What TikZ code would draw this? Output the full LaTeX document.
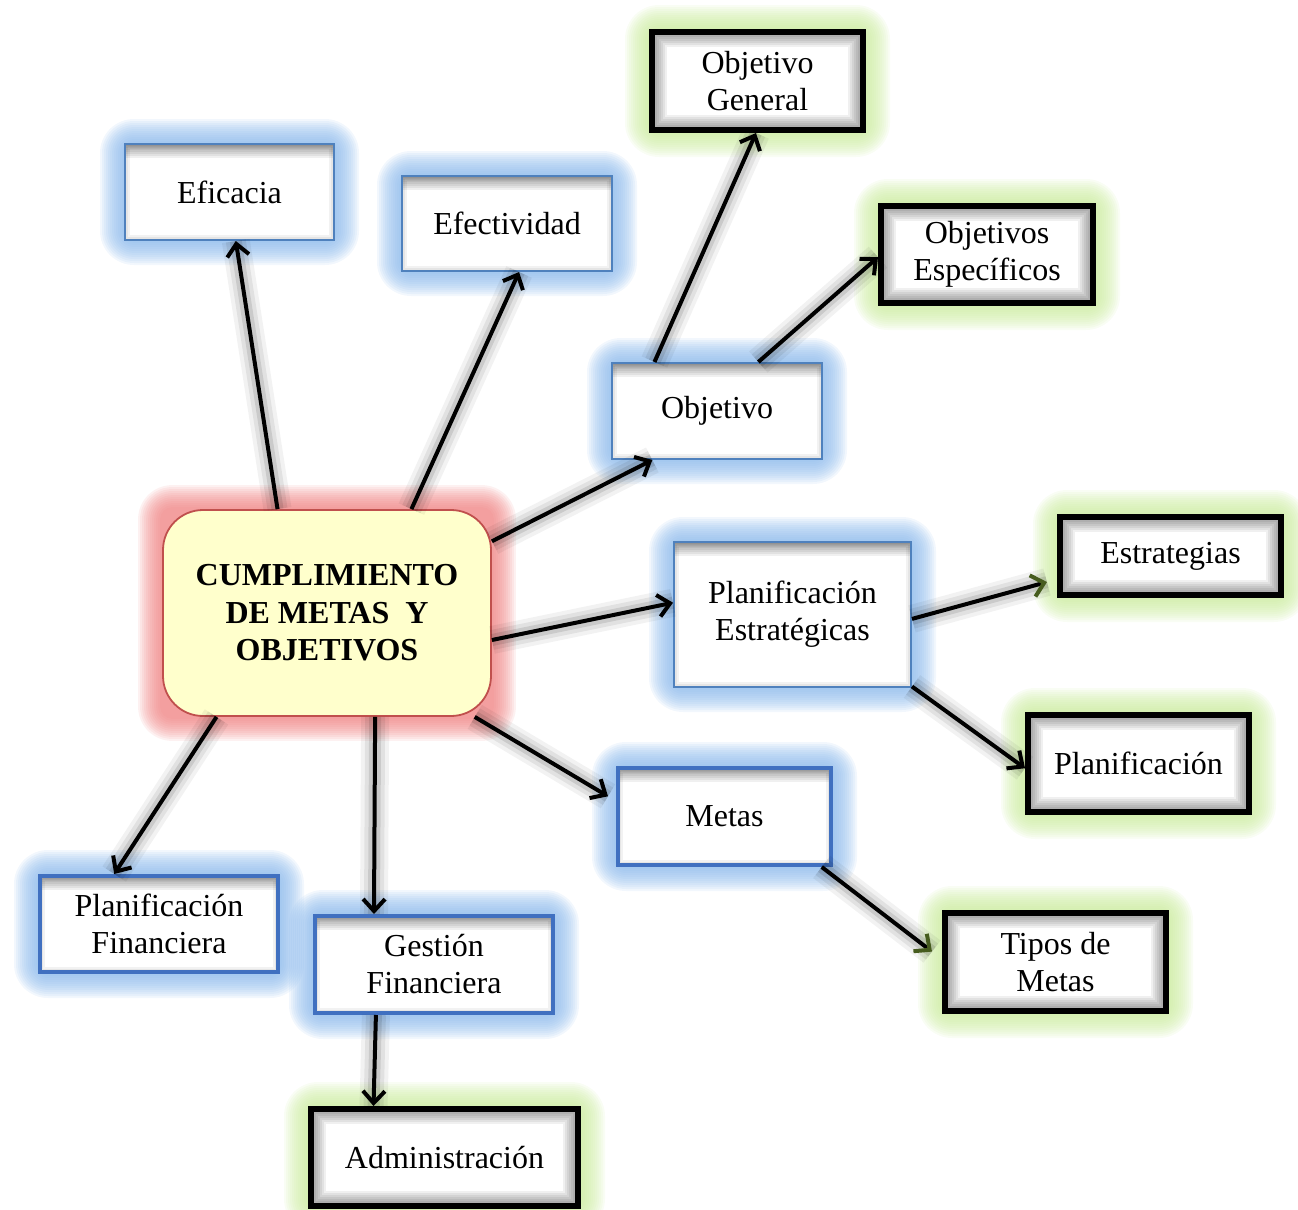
\documentclass[tikz,border=0pt]{standalone}
\usepackage{fontspec}
\setmainfont{Liberation Serif}
\usetikzlibrary{arrows.meta,calc}
\pgfdeclarelayer{glow}
\pgfsetlayers{glow,main}

\definecolor{glowblue}{RGB}{136,183,235}
\definecolor{glowgreen}{RGB}{201,235,155}
\definecolor{glowred}{RGB}{239,128,128}
\definecolor{lineblue}{RGB}{79,129,189}
\definecolor{deepblue}{RGB}{64,112,192}
\definecolor{boxred}{RGB}{192,80,77}
\definecolor{cream}{RGB}{255,255,204}
\definecolor{tipgreen}{RGB}{70,92,30}

% soft coloured halo behind a node
\newcommand\glowof[2]{%
  \begin{pgfonlayer}{glow}
    \foreach \gr in {1,...,12}{
      \pgfmathsetlengthmacro\grc{\gr pt+5pt}
      \fill[#2, fill opacity=0.11, rounded corners=\grc]
        ($(#1.south west)+(-\gr pt,-\gr pt)$) rectangle ($(#1.north east)+(\gr pt,\gr pt)$);
    }
  \end{pgfonlayer}}

\tikzset{
  box/.style={rectangle, fill=white, align=center, inner sep=0pt,
    font=\fontsize{16}{18.5}\selectfont},
  topshade/.style={path picture={
    \foreach \w in {14pt,12pt,10pt,8pt,6pt,4pt,2pt}
      \draw[black, line width=\w, opacity=0.06]
        (path picture bounding box.north west) -- (path picture bounding box.north east);
    \foreach \w in {5pt,3pt}
      \draw[black, line width=\w, opacity=0.05]
        (path picture bounding box.south west) rectangle (path picture bounding box.north east);}},
  innershade/.style={path picture={
    \foreach \w in {15pt,13pt,11pt,9pt,7pt,5pt}
      \draw[black, line width=\w, opacity=0.06]
        (path picture bounding box.south west) rectangle (path picture bounding box.north east);}},
  thinblue/.style={box, draw=lineblue, line width=1pt, topshade},
  thickblue/.style={box, draw=deepblue, line width=2pt, topshade},
  blackbox/.style={box, draw=black, line width=3pt, innershade},
  corebox/.style={rectangle, rounded corners=20pt, fill=cream, draw=boxred, line width=0.9pt,
    align=center, inner sep=0pt, font=\fontsize{16}{18.8}\selectfont\bfseries},
  conn/.style={line width=2pt, -{Straight Barb[length=6pt,width=11pt]},
    preaction={draw=black, line width=14pt, opacity=0.05, arrows=-},
    preaction={draw=black, line width=10pt, opacity=0.07, arrows=-},
    preaction={draw=black, line width=6pt, opacity=0.10, arrows=-}},
  conngreen/.style={conn, -{Straight Barb[length=6pt,width=11pt,color=tipgreen]}},
}

\begin{document}
\begin{tikzpicture}[x=0.5pt, y=-0.5pt]
\useasboundingbox (0,0) rectangle (1298,1210);

% central topic
\node[corebox, minimum width=164pt, minimum height=103pt] (cen) at (327,613)
  {CUMPLIMIENTO\\DE METAS\ \ Y\\OBJETIVOS};

% first level
\node[thinblue, minimum width=104.5pt, minimum height=48pt] (efi) at (229.5,192) {Eficacia};
\node[thinblue, minimum width=105pt, minimum height=47.5pt] (efe) at (507,223.5) {Efectividad};
\node[thinblue, minimum width=105pt, minimum height=48pt] (obj) at (717,411) {Objetivo};
\node[thinblue, minimum width=118.5pt, minimum height=72.5pt] (pest) at (792.5,614.5) {Planificación\\Estratégicas};
\node[thickblue, minimum width=106.5pt, minimum height=48.5pt] (met) at (724.5,816.5) {Metas};
\node[thickblue, minimum width=119pt, minimum height=48pt] (pfin) at (159,924) {Planificación\\Financiera};
\node[thickblue, minimum width=119pt, minimum height=48.5pt] (gfin) at (434,964.5) {Gestión\\Financiera};

% second level
\node[blackbox, minimum width=105.5pt, minimum height=49pt] (ogen) at (757.5,81) {Objetivo\\General};
\node[blackbox, minimum width=106pt, minimum height=48.5pt] (oesp) at (987,254.5) {Objetivos\\Específicos};
\node[blackbox, minimum width=110.5pt, minimum height=39pt] (estr) at (1170.5,556) {Estrategias};
\node[blackbox, minimum width=110.5pt, minimum height=48.5pt] (plan) at (1138.5,763.5) {Planificación};
\node[blackbox, minimum width=110.5pt, minimum height=49pt] (tip) at (1055.5,962) {Tipos de\\Metas};
\node[blackbox, minimum width=133.5pt, minimum height=48.5pt] (adm) at (444.5,1157.5) {Administración};

% halos
\glowof{cen}{glowred}
\foreach \n in {efi,efe,obj,pest,met,pfin,gfin} {\glowof{\n}{glowblue}}
\foreach \n in {ogen,oesp,estr,plan,tip,adm} {\glowof{\n}{glowgreen}}

% connectors
\draw[conn] ($(cen.north west)!0.35!(cen.north east)$) -- ($(efi.south west)!0.53!(efi.south east)$);
\draw[conn] ($(cen.north west)!0.756!(cen.north east)$) -- ($(efe.south west)!0.557!(efe.south east)$);
\draw[conn] ($(cen.north east)!0.155!(cen.south east)$) -- ($(obj.south west)!0.195!(obj.south east)$);
\draw[conn] ($(obj.north west)!0.205!(obj.north east)$) -- ($(ogen.south west)!0.493!(ogen.south east)$);
\draw[conn] ($(obj.north west)!0.695!(obj.north east)$) -- ($(oesp.north west)!0.526!(oesp.south west)$);
\draw[conn] ($(cen.north east)!0.63!(cen.south east)$) -- ($(pest.north west)!0.42!(pest.south west)$);
\draw[conngreen] ($(pest.north east)!0.53!(pest.south east)$) -- ($(estr.north west)!0.81!(estr.south west)+(-5pt,0)$);
\draw[conn] ($(pest.north east)!0.99!(pest.south east)$) -- ($(plan.north west)!0.546!(plan.south west)$);
\draw[conn] ($(cen.south west)!0.948!(cen.south east)$) -- ($(met.north west)!0.3!(met.south west)+(-4pt,0)$);
\draw[conngreen] ($(met.south west)!0.948!(met.south east)$) -- ($(tip.north west)!0.4!(tip.south west)+(-5pt,0)$);
\draw[conn] ($(cen.south west)!0.165!(cen.south east)$) -- ($(pfin.north west)!0.315!(pfin.north east)$);
\draw[conn] ($(cen.south west)!0.646!(cen.south east)$) -- ($(gfin.north west)!0.252!(gfin.north east)$);
\draw[conn] ($(gfin.south west)!0.26!(gfin.south east)$) -- ($(adm.north west)!0.24!(adm.north east)$);
\end{tikzpicture}
\end{document}
